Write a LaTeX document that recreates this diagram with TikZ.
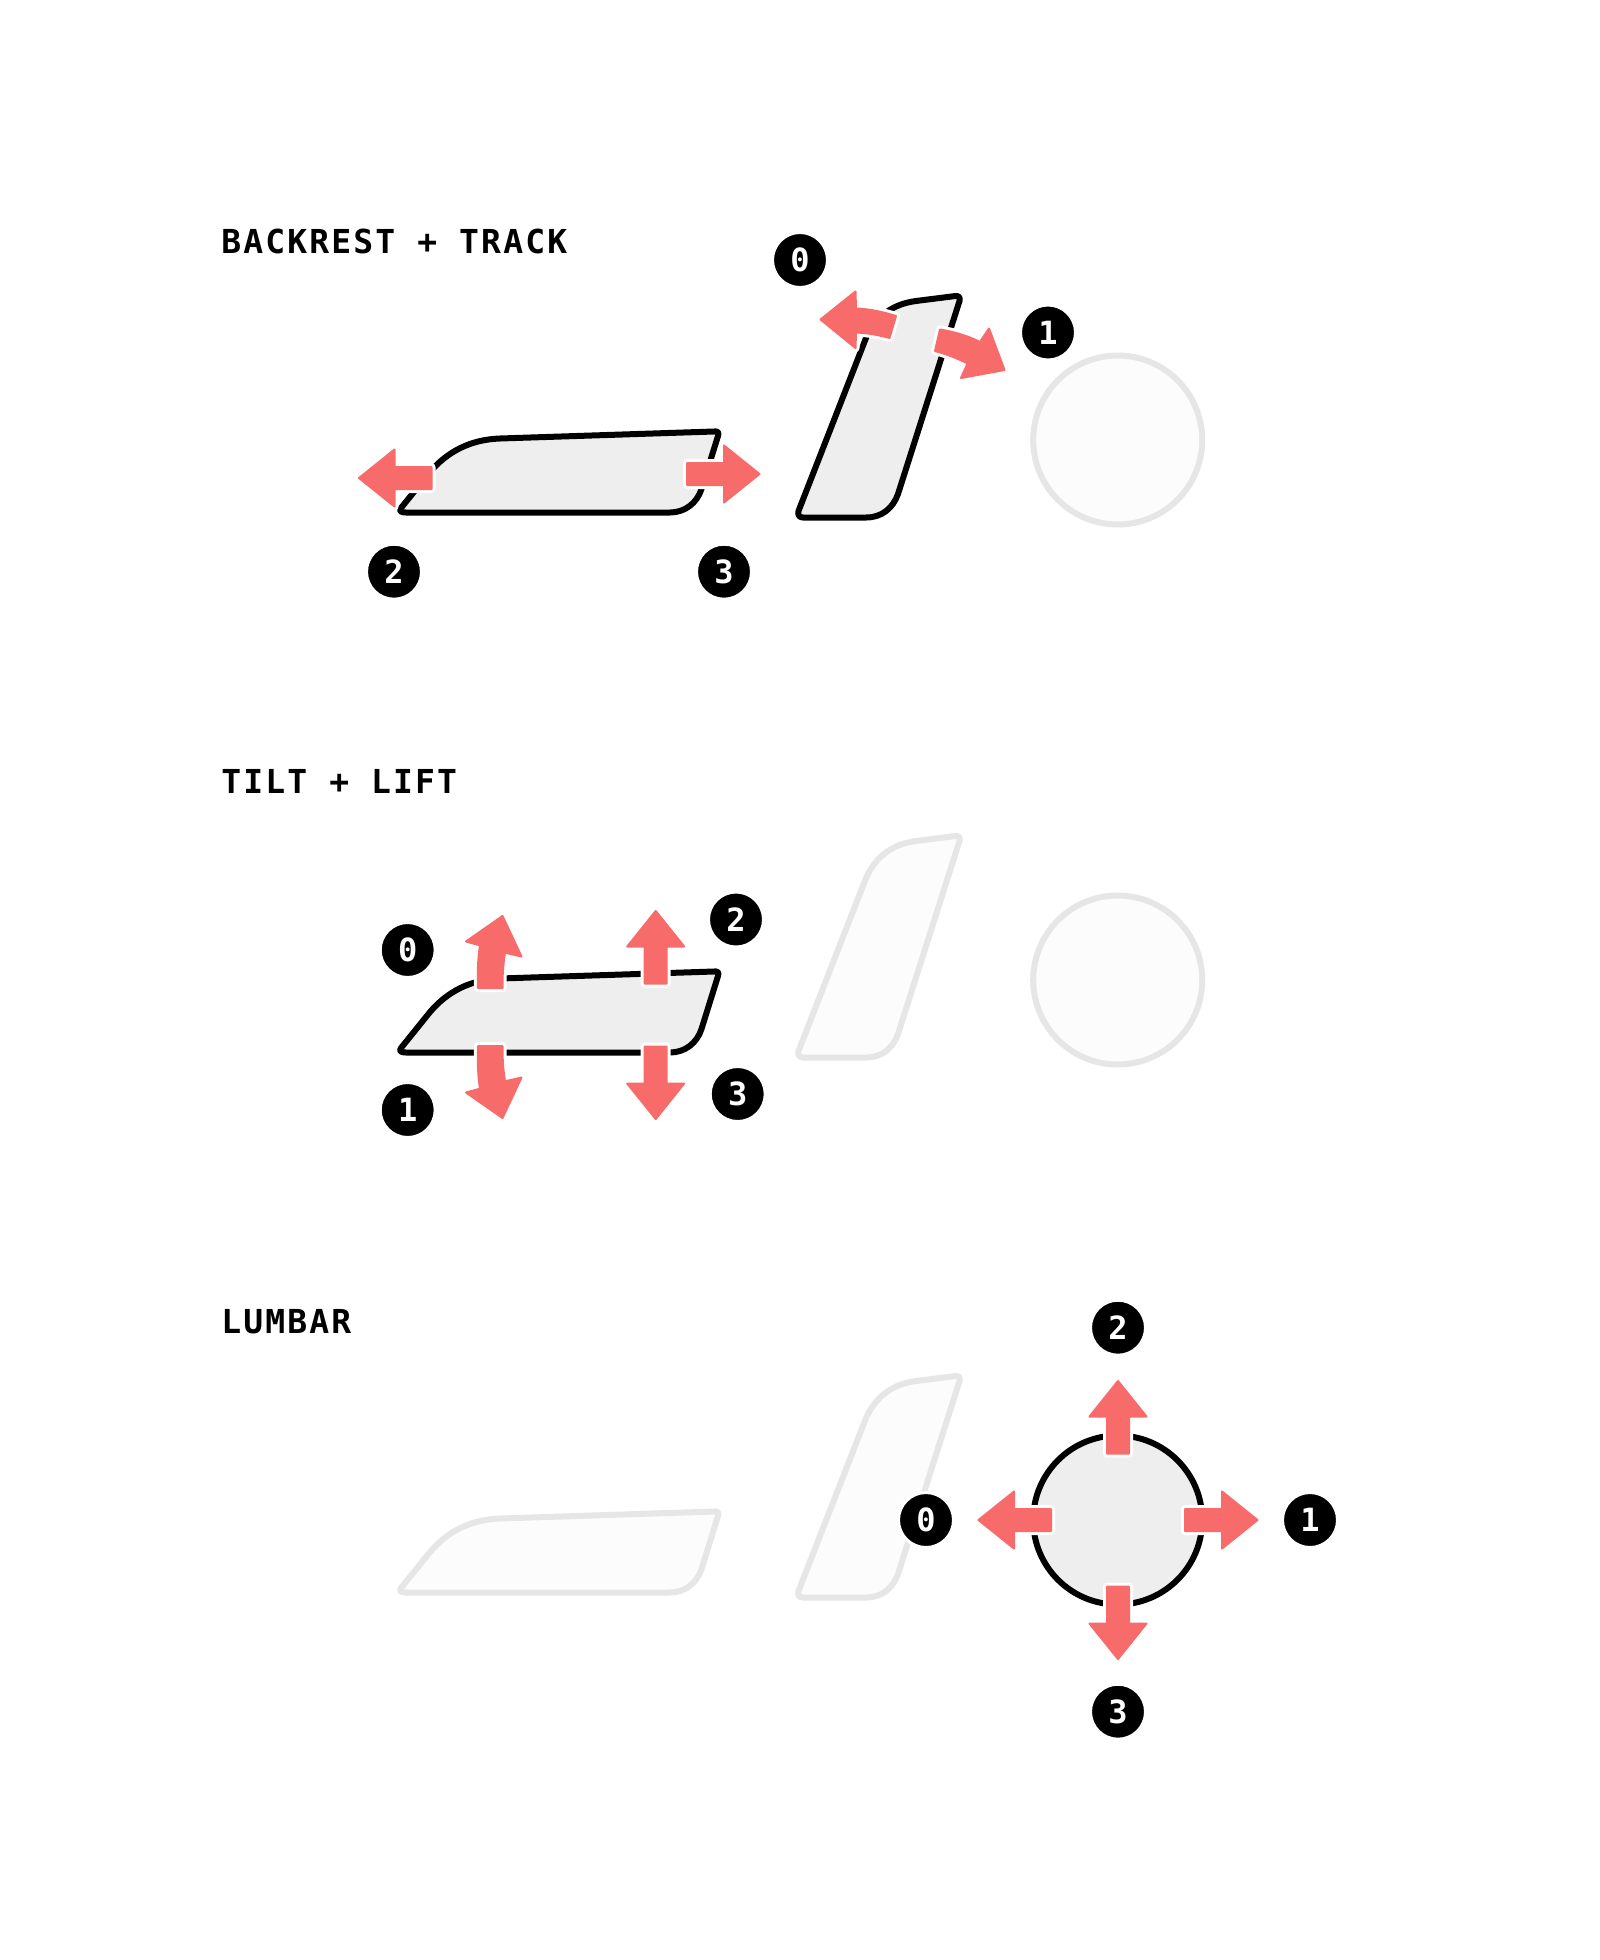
\documentclass[tikz,border=0pt]{standalone}
\usepackage{fontspec}
\setmonofont{DejaVu Sans Mono}
\newfontfamily\titlefont[LetterSpace=6.5]{DejaVu Sans Mono Bold}
\newfontfamily\badgefont{DejaVu Sans Mono Bold}
\definecolor{coral}{HTML}{F76B6B}
\definecolor{ghostline}{HTML}{E6E6E6}
\definecolor{ghostfill}{HTML}{FCFCFC}
\definecolor{activefill}{HTML}{EEEEEE}
\newcommand{\seatshape}{(406,512.5) -- (670,512.5) .. controls (685,512.5) and (697,503) .. (701.5,489) -- (718,436) .. controls (719.5,432) and (717,431) .. (714,431.5) -- (500,438.5) .. controls (470,439.5) and (447,452) .. (430,472) -- (401,508) .. controls (398.5,511) and (401,512.5) .. (406,512.5) -- cycle}
\newcommand{\backshape}{(803,517.5) -- (866,517.5) .. controls (882,517.5) and (893,508) .. (898,494) -- (959.5,301) .. controls (960.5,297.5) and (958.5,295.5) .. (955.5,296) -- (916,301) .. controls (893,304) and (876,316) .. (866,338) -- (798.5,511) .. controls (797.5,514.5) and (799,517.5) .. (803,517.5) -- cycle}
\newcommand{\straightshape}{(-74,-11) -- (-37,-11) -- (-37,-28.5) -- (-1.5,0) -- (-37,28.5) -- (-37,11) -- (-74,11) -- cycle}
\tikzset{
  x=0.5pt, y=-0.5pt,
  activepart/.style={draw=black, fill=activefill, line width=3pt, line join=round},
  ghostpart/.style={draw=ghostline, fill=ghostfill, line width=3pt, line join=round},
  halo/.style={draw=white, line width=4pt, line join=round, fill=white},
  coralfill/.style={draw=coral, fill=coral, line width=1pt, line join=round},
  badge/.style={circle, fill=black, draw=white, line width=1.5pt, minimum size=27.5pt, inner sep=0pt, text=white, font=\badgefont\fontsize{16}{16}\selectfont},
  rowtitle/.style={anchor=base west, inner sep=0pt, text=black, font=\titlefont\fontsize{16.5}{17}\selectfont},
}
\newcommand{\straightarrow}[3]{%
  \begin{scope}[shift={(#1,#2)}, rotate=#3]
    \path[halo] \straightshape;
    \path[coralfill] \straightshape;
  \end{scope}}
\newcommand{\curvedarrow}[1]{%
  \path[halo] #1;
  \path[coralfill] #1;}
\begin{document}
\begin{tikzpicture}
\path[use as bounding box, fill=white] (0,0) rectangle (1600,1960);

% Row 1
\node[rowtitle] (title1) at (221,253.3) {BACKREST + TRACK};
\path[ghostpart] (1117.7,440) circle[radius=84.5];
\path[activepart] \seatshape;
\path[activepart] \backshape;
\straightarrow{357.5}{478}{180}
\straightarrow{761}{474}{0}
\curvedarrow{(896,316) .. controls (883,312) and (870,309) .. (856,308.5) -- (855.5,291.5) -- (820.5,319.5) -- (855.5,348) -- (856,332.5) .. controls (868,333) and (879,335) .. (889.5,338) -- cycle}
\curvedarrow{(940,329.5) .. controls (955,332) and (968,336) .. (980,342) -- (989,328.5) -- (1004.5,370) -- (961,378) -- (967.5,363.5) .. controls (957,358) and (946,354) .. (935,351) -- cycle}
\node[badge] (r1b0) at (800,260) {0};
\node[badge] (r1b1) at (1048,332.5) {1};
\node[badge] (r1b2) at (394,571.7) {2};
\node[badge] (r1b3) at (724,571.7) {3};

% Row 2
\node[rowtitle] (title2) at (221,793.3) {TILT + LIFT};
\begin{scope}[yshift=-270pt]
  \path[ghostpart] (1117.7,440) circle[radius=84.5];
  \path[ghostpart] \backshape;
  \path[activepart] \seatshape;
\end{scope}
\curvedarrow{(478,988) .. controls (477.5,970) and (478,958) .. (480,945.3) -- (466,941.5) -- (502.5,916) -- (521.5,956.5) -- (505,952.7) .. controls (503,965) and (502.5,975) .. (502.5,988) -- cycle}
\curvedarrow{(478,1046) .. controls (477.5,1064) and (478,1076) .. (480,1088.7) -- (466,1092.5) -- (502.5,1118) -- (521.5,1077.5) -- (505,1081.3) .. controls (503,1069) and (502.5,1059) .. (502.5,1046) -- cycle}
\straightarrow{655.7}{909.5}{90}
\straightarrow{655.7}{1120.5}{-90}
\node[badge] (r2b0) at (407.7,950) {0};
\node[badge] (r2b1) at (407.7,1110) {1};
\node[badge] (r2b2) at (736,919.5) {2};
\node[badge] (r2b3) at (737.7,1094) {3};

% Row 3
\node[rowtitle] (title3) at (221,1333.3) {LUMBAR};
\begin{scope}[yshift=-540pt]
  \path[ghostpart] \seatshape;
  \path[ghostpart] \backshape;
  \path[activepart] (1117.7,440) circle[radius=84.5];
\end{scope}
\straightarrow{1118}{1379.5}{90}
\straightarrow{1118}{1660.5}{-90}
\straightarrow{977}{1520}{180}
\straightarrow{1259}{1520}{0}
\node[badge] (r3b0) at (926,1520) {0};
\node[badge] (r3b1) at (1310,1520) {1};
\node[badge] (r3b2) at (1118,1327.7) {2};
\node[badge] (r3b3) at (1118,1711.7) {3};
\end{tikzpicture}
\end{document}
